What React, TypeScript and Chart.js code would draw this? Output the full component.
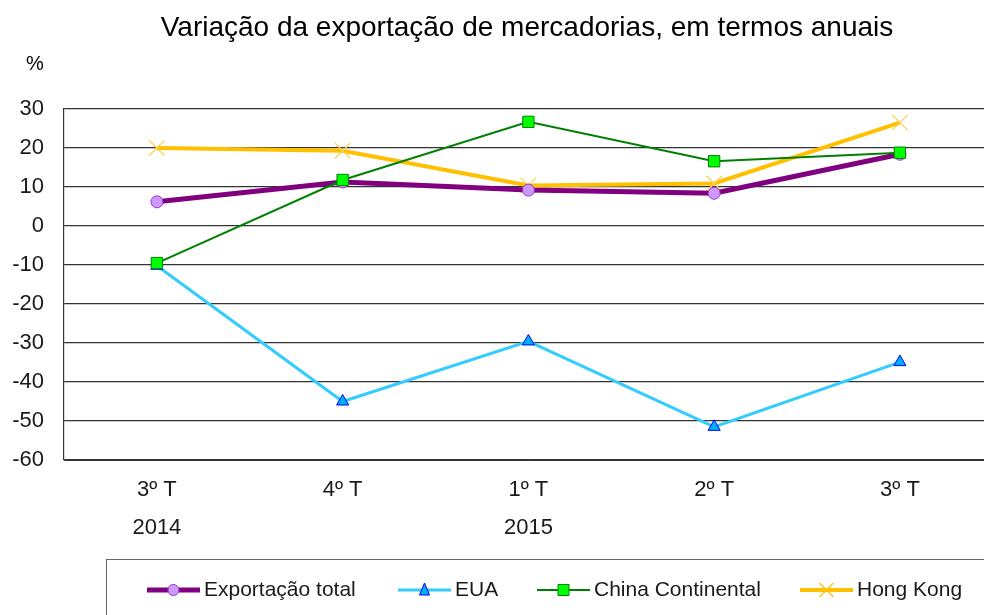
import React, { useEffect, useRef } from "react";
import { Chart, registerables } from "chart.js";

Chart.register(...registerables);

const chartTitle = "Variação da exportação de mercadorias, em termos anuais";
const unitLabel = "%";
const quarters = ["3º T", "4º T", "1º T", "2º T", "3º T"];
const years = ["2014", "", "2015", "", ""];
const exportacaoTotal = [6.2, 11.3, 9.2, 8.4, 18.4];
const eua = [-10.2, -45.0, -29.6, -51.5, -34.9];
const chinaContinental = [-9.5, 11.8, 26.7, 16.6, 18.8];
const hongKong = [20.0, 19.3, 10.4, 10.9, 26.5];
const yMin = -60;
const yMax = 30;
const yStep = 10;

const FONT = "'Liberation Sans', Arial, sans-serif";
const CANVAS_W = 1005;
const CANVAS_H = 615;

type LegendItem = {
  label: string;
  color: string;
  width: number;
  marker: "circle" | "triangle" | "rect" | "crossRot";
  fill: string;
  stroke: string;
};

const legendItems: LegendItem[] = [
  { label: "Exportação total", color: "#800080", width: 5, marker: "circle", fill: "#cc99ff", stroke: "#9933cc" },
  { label: "EUA", color: "#33ccff", width: 3, marker: "triangle", fill: "#00b0f0", stroke: "#0000ff" },
  { label: "China Continental", color: "#008000", width: 2, marker: "rect", fill: "#00ff00", stroke: "#008000" },
  { label: "Hong Kong", color: "#ffc000", width: 4, marker: "crossRot", fill: "#ffc000", stroke: "#ffc000" },
];
const legendStarts = [147, 398, 537, 800];

function drawMarker(ctx: CanvasRenderingContext2D, item: LegendItem, x: number, y: number) {
  ctx.save();
  ctx.fillStyle = item.fill;
  ctx.strokeStyle = item.stroke;
  ctx.lineWidth = 1;
  ctx.beginPath();
  if (item.marker === "circle") {
    ctx.arc(x, y, 5.5, 0, Math.PI * 2);
    ctx.fill();
    ctx.stroke();
  } else if (item.marker === "triangle") {
    ctx.moveTo(x, y - 7);
    ctx.lineTo(x + 5, y + 5);
    ctx.lineTo(x - 5, y + 5);
    ctx.closePath();
    ctx.fill();
    ctx.stroke();
  } else if (item.marker === "rect") {
    ctx.rect(x - 5.5, y - 5.5, 11, 11);
    ctx.fill();
    ctx.stroke();
  } else {
    ctx.lineWidth = 1.2;
    ctx.moveTo(x - 7, y - 7);
    ctx.lineTo(x + 7, y + 7);
    ctx.moveTo(x + 7, y - 7);
    ctx.lineTo(x - 7, y + 7);
    ctx.stroke();
  }
  ctx.restore();
}

const decorPlugin = {
  id: "decor",
  afterDraw(chart: any) {
    const ctx: CanvasRenderingContext2D = chart.ctx;
    ctx.save();
    // Title
    ctx.fillStyle = "#000";
    ctx.font = `28px ${FONT}`;
    ctx.textAlign = "center";
    ctx.textBaseline = "middle";
    ctx.fillText(chartTitle, 527, 28);
    // Unit
    ctx.font = `20px ${FONT}`;
    ctx.fillText(unitLabel, 35, 64);

    // Legend box
    ctx.strokeStyle = "#666";
    ctx.lineWidth = 1;
    ctx.strokeRect(106.5, 559.5, CANVAS_W, 100);

    ctx.font = `21px ${FONT}`;
    ctx.textAlign = "left";
    ctx.textBaseline = "middle";
    const ly = 590;
    const sampleW = 53;
    legendItems.forEach((item, i) => {
      const x = legendStarts[i];
      ctx.save();
      ctx.strokeStyle = item.color;
      ctx.lineWidth = item.width;
      ctx.beginPath();
      ctx.moveTo(x, ly);
      ctx.lineTo(x + sampleW, ly);
      ctx.stroke();
      ctx.restore();
      drawMarker(ctx, item, x + sampleW / 2, ly);
      ctx.fillStyle = "#1a1a1a";
      ctx.fillText(item.label, x + sampleW + 4, ly);
    });
    ctx.restore();
  },
};

export default function App() {
  const ref = useRef<HTMLCanvasElement>(null);

  useEffect(() => {
    const labels = quarters.map((q, i) => [q, years[i]]);
    const chart = new Chart(ref.current as HTMLCanvasElement, {
      type: "line",
      data: {
        labels,
        datasets: [
          {
            label: "Exportação total",
            data: exportacaoTotal,
            borderColor: "#800080",
            borderWidth: 5,
            pointStyle: "circle",
            pointRadius: 6,
            pointBackgroundColor: "#cc99ff",
            pointBorderColor: "#9933cc",
            pointBorderWidth: 1,
            tension: 0,
            order: 1,
          },
          {
            label: "EUA",
            data: eua,
            borderColor: "#33ccff",
            borderWidth: 3,
            pointStyle: "triangle",
            pointRadius: 7,
            pointBackgroundColor: "#00b0f0",
            pointBorderColor: "#0000ff",
            pointBorderWidth: 1,
            tension: 0,
            order: 3,
          },
          {
            label: "China Continental",
            data: chinaContinental,
            borderColor: "#008000",
            borderWidth: 2,
            pointStyle: "rect",
            pointRadius: 8,
            pointBackgroundColor: "#00ff00",
            pointBorderColor: "#008000",
            pointBorderWidth: 1,
            tension: 0,
            order: 0,
          },
          {
            label: "Hong Kong",
            data: hongKong,
            borderColor: "#ffc000",
            borderWidth: 4,
            pointStyle: "crossRot",
            pointRadius: 11,
            pointBackgroundColor: "#ffc000",
            pointBorderColor: "#ffd24d",
            pointBorderWidth: 1.2,
            tension: 0,
            order: 2,
          },
        ],
      },
      options: {
        responsive: false,
        animation: false,
        layout: { padding: { top: 109, left: 0, right: 0, bottom: 0 } },
        plugins: {
          legend: { display: false },
          title: { display: false },
          tooltip: { enabled: false },
        },
        scales: {
          x: {
            type: "category",
            offset: true,
            grid: { display: false, drawTicks: false },
            border: { display: true, color: "#333", width: 1 },
            ticks: {
              padding: 11,
              color: "#1a1a1a",
              font: { family: FONT, size: 22, lineHeight: 38 / 22 },
              maxRotation: 0,
              autoSkip: false,
            },
            afterFit: (scale: any) => {
              scale.height = CANVAS_H - 460;
            },
          },
          y: {
            min: yMin,
            max: yMax,
            grid: { color: "#333", lineWidth: 1.2, drawTicks: false },
            border: { display: true, color: "#333", width: 1.2 },
            ticks: {
              stepSize: yStep,
              padding: 20,
              color: "#1a1a1a",
              font: { family: FONT, size: 22 },
            },
            afterFit: (scale: any) => {
              scale.width = 64;
            },
          },
        },
      },
      plugins: [decorPlugin],
    } as any);
    return () => chart.destroy();
  }, []);

  return (
    <div
      style={{
        position: "absolute",
        left: 0,
        top: 0,
        width: 984,
        height: 615,
        overflow: "hidden",
        background: "#fff",
      }}
    >
      <canvas ref={ref} width={CANVAS_W} height={CANVAS_H} style={{ display: "block" }} />
    </div>
  );
}
